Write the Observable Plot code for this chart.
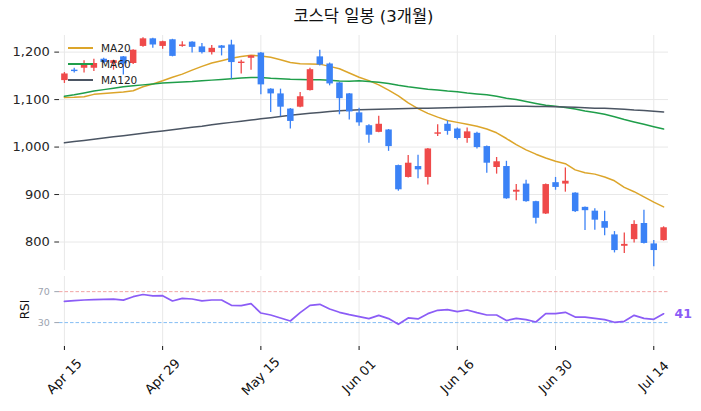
<!DOCTYPE html>
<html>
<head>
<meta charset="utf-8">
<script src="https://cdn.jsdelivr.net/npm/d3@7"></script>
<script src="https://cdn.jsdelivr.net/npm/@observablehq/plot@0.6"></script>
<style>
  html, body { margin: 0; padding: 0; background: #fff; }
  #wrap { position: relative; width: 701px; height: 411px; font-family: "DejaVu Sans", "Noto Sans CJK KR", sans-serif; }
  #title { position: absolute; left: 59px; width: 609px; top: 6px; text-align: center; font-size: 16.5px; line-height: 22px; color: #111; }
  #main { position: absolute; left: 0; top: 30px; }
  #rsi { position: absolute; left: 0; top: 272px; }
  #legend { position: absolute; left: 68px; top: 40px; font-size: 10.5px; color: #222; }
  .li { position: relative; height: 16px; }
  .li span.sw { position: absolute; left: 0; top: 7px; width: 25px; height: 0; border-top: 2px solid; }
  .li span.lb { position: absolute; left: 33px; top: 0; line-height: 16px; }
  svg { display: block; overflow: visible; }
</style>
</head>
<body>
<div id="wrap">
  <div id="title"></div>
  <div id="main"></div>
  <div id="rsi"></div>
  <div id="legend"></div>
</div>
<script>
const titleText = "코스닥 일봉 (3개월)";
const tickIdx = [0, 10, 20, 30, 40, 50, 60];
const tickLabels = ["Apr 15", "Apr 29", "May 15", "Jun 01", "Jun 16", "Jun 30", "Jul 14"];
const priceTicks = [800, 900, 1000, 1100, 1200];
const rsiTicks = [30, 70];

const opens  = [1140,1162,1166,1166,1185,1176,1190,1176,1212,1228,1212,1226,1212,1221,1211,1199,1213,1215,1176,1187,
                1198,1122,1112,1080,1084,1119,1190,1175,1135,1112,1072,1045,1031,1036,961,936,959,936,1027,1048,
                1038,1018,1029,1001,957,959,905,922,885,859,925,922,903,873,865,843,815,791,805,839,796,803];
const highs  = [1157,1166,1182,1185,1187,1183,1191,1205,1230,1229,1223,1227,1222,1222,1218,1214,1214,1225,1183,1193,
                1199,1123,1122,1081,1115,1166,1204,1177,1136,1113,1082,1047,1065,1037,962,982,983,997,1047,1055,
                1040,1040,1031,1002,978,970,921,930,886,922,936,956,904,874,870,865,822,819,845,867,803,832];
const lows   = [1134,1156,1156,1159,1176,1162,1152,1174,1210,1208,1206,1190,1210,1198,1196,1194,1192,1143,1154,1162,
                1110,1073,1064,1038,1083,1118,1171,1129,1068,1057,1044,1008,1030,991,907,935,933,920,1022,1025,
                1015,1008,996,945,943,890,887,884,838,858,909,905,862,824,825,813,777,776,798,796,748,802];
const closes = [1154,1159,1173,1176,1178,1182,1175,1204,1228,1215,1222,1191,1215,1210,1199,1208,1208,1178,1179,1192,
                1131,1112,1084,1054,1106,1163,1173,1133,1102,1074,1051,1025,1048,1001,910,966,952,996,1030,1033,
                1018,1032,999,966,969,891,909,885,850,921,915,928,864,866,846,829,782,795,837,797,782,830];

const ma20  = [1104.5,1105,1106,1111,1113,1114.5,1116,1118.5,1127,1133,1139.6,1147,1153.6,1162,1170,1177,1182,1187,1191,1193.5,
               1192,1189,1184,1178,1175.7,1175,1174.7,1170,1165,1156,1147,1140,1131,1120,1108,1093,1081,1071,1063,1056,
               1052,1048,1044,1038,1030,1018,1005,994,985,977,970,965,952,946,943,937,929,915,906,895,884,874];
const ma60  = [1107,1110,1114,1118,1121,1124,1127,1129,1131,1133,1134.7,1136,1137,1138,1139.5,1141,1142.5,1144,1145.5,1146.5,
               1146.5,1145,1144,1143,1142.5,1142,1141.7,1140.5,1139,1138.5,1139.5,1138,1136.5,1134,1130,1127,1124.5,1122,1120,1118,
               1116.5,1114,1112,1110,1107,1103,1100,1096,1092,1088,1086,1083.5,1080,1076,1073,1069,1064,1058,1053,1048,1043,1038];
const ma120 = [1009,1011.5,1014,1016.5,1019,1021.5,1024,1026.5,1029,1031.5,1034,1036.5,1039,1041.5,1044,1047,1049.5,1052,1054.5,1057,
               1059.5,1062,1064.5,1067,1069,1071,1073,1075,1076.5,1077.5,1078.5,1079,1079.5,1080,1080.5,1081,1081.5,1082,1082.5,1083,
               1083.5,1084,1084.5,1085,1085.5,1086,1086,1086,1085.5,1085.5,1085,1084.5,1084,1083,1082,1081.5,1080.5,1079.5,1078,1077,1075.5,1074];
const rsi   = [57.5,58.5,59.2,59.6,60.0,60.3,59.0,63.5,66.3,64.6,64.8,57.9,61.4,60.5,58.0,59.2,59.2,52.3,52.0,54.5,
               42.4,39.8,36.0,32.1,42.9,52.3,53.6,47.6,43.3,40.3,37.7,35.2,39.4,35.2,27.8,36.0,34.7,41.6,45.9,46.8,
               44.2,46.3,42.9,39.8,39.8,32.6,35.5,33.9,30.8,41.6,41.6,43.3,37.2,37.2,35.5,33.9,30.4,31.7,39.4,35.5,34.3,41.4];

const maSeries = [
  {name: "MA20", values: ma20, color: "#dca52a"},
  {name: "MA60", values: ma60, color: "#1f9e4a"},
  {name: "MA120", values: ma120, color: "#4b5563"}
];
const UP = "#ef4a4a", DOWN = "#3b82f6";

document.getElementById("title").textContent = titleText;

const candles = closes.map((c, i) => ({i, open: opens[i], high: highs[i], low: lows[i], close: c}));
const colorOf = d => d.close >= d.open ? UP : DOWN;
const xDomain = [-0.5, closes.length - 0.5];

const main = Plot.plot({
  width: 701, height: 242,
  marginTop: 5, marginBottom: 2, marginLeft: 59, marginRight: 33,
  x: {domain: xDomain, axis: null},
  y: {domain: [740, 1235], axis: null},
  style: {fontFamily: "DejaVu Sans", fontSize: "13px", background: "transparent", color: "#262626"},
  marks: [
    Plot.gridY({ticks: priceTicks, stroke: "#e8e8e8", strokeOpacity: 1}),
    Plot.gridX({ticks: tickIdx, stroke: "#e8e8e8", strokeOpacity: 1}),
    Plot.axisY({ticks: priceTicks, tickFormat: d3.format(","), tickSize: 4.7, tickPadding: 5, fontSize: 13, label: null}),
    ...maSeries.map(s => Plot.lineY(s.values, {x: (d, i) => i, y: d => d, stroke: s.color, strokeWidth: 1.5})),
    Plot.ruleX(candles, {x: "i", y1: "low", y2: "high", stroke: colorOf, strokeWidth: 1.3}),
    Plot.ruleX(candles, {x: "i", y1: "open", y2: "close", stroke: colorOf, strokeWidth: 6.5})
  ]
});
document.getElementById("main").append(main);

const rsiPlot = Plot.plot({
  width: 701, height: 139,
  marginTop: 4, marginBottom: 65, marginLeft: 59, marginRight: 33,
  x: {domain: xDomain, axis: null},
  y: {domain: [3, 87], insetTop: 2, insetBottom: 3, axis: null},
  style: {fontFamily: "DejaVu Sans", fontSize: "12px", background: "transparent", color: "#111"},
  marks: [
    Plot.gridX({ticks: tickIdx, stroke: "#e8e8e8", strokeOpacity: 1}),
    Plot.ruleY([70], {stroke: "#f2a3a3", strokeWidth: 1, strokeDasharray: "3.5,2"}),
    Plot.ruleY([30], {stroke: "#84bdf4", strokeWidth: 1, strokeDasharray: "3.5,2"}),
    Plot.axisY({ticks: rsiTicks, tickSize: 4.7, tickPadding: 5, fontSize: 9.5, color: "#9ca3af", label: null}),
    Plot.axisX({ticks: tickIdx, tickSize: 4, tickFormat: () => "", label: null, color: "#111"}),
    Plot.text(tickIdx, {x: d => d, text: (d, i) => tickLabels[i], frameAnchor: "bottom", dy: 30,
      rotate: -45, textAnchor: "middle", lineAnchor: "middle", fontSize: 13, fill: "#111"}),
    Plot.text(["RSI"], {frameAnchor: "left", dx: -34, dy: -2, rotate: -90, fontSize: 12, fill: "#111",
      textAnchor: "middle", lineAnchor: "middle"}),
    Plot.lineY(rsi, {x: (d, i) => i, y: d => d, stroke: "#8b5cf6", strokeWidth: 1.7}),
    Plot.text([rsi[rsi.length - 1]], {x: () => rsi.length - 1, y: d => d, text: d => String(Math.round(d)),
      dx: 11, textAnchor: "start", fontWeight: "bold", fill: "#8b5cf6", fontSize: 12.5})
  ]
});
document.getElementById("rsi").append(rsiPlot);

const legend = document.getElementById("legend");
maSeries.forEach(s => {
  const row = document.createElement("div");
  row.className = "li";
  const sw = document.createElement("span");
  sw.className = "sw"; sw.style.borderTopColor = s.color;
  const lb = document.createElement("span");
  lb.className = "lb"; lb.textContent = s.name;
  row.append(sw, lb);
  legend.append(row);
});
</script>
</body>
</html>
